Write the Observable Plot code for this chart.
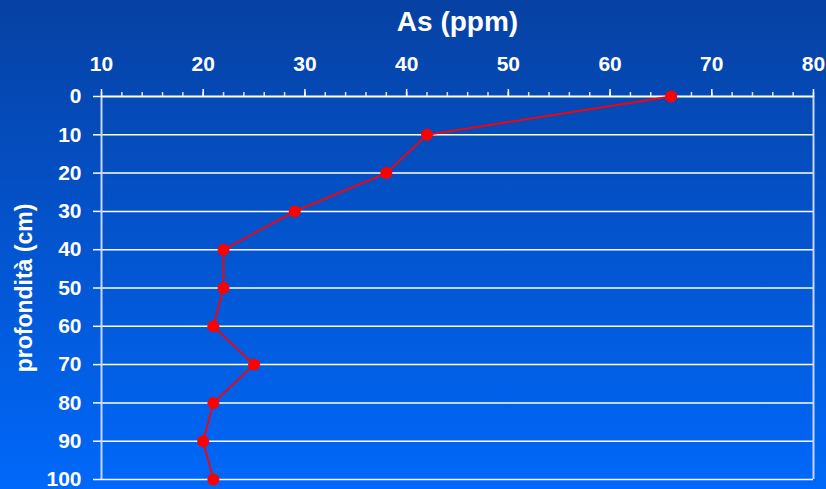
<!DOCTYPE html>
<html>
<head>
<meta charset="utf-8">
<script src="https://cdn.jsdelivr.net/npm/d3@7"></script>
<script src="https://cdn.jsdelivr.net/npm/@observablehq/plot@0.6"></script>
<style>
  html, body { margin: 0; padding: 0; }
  body { width: 826px; height: 489px; overflow: hidden; background: linear-gradient(to bottom, #0641a3, #0068fa); }
</style>
</head>
<body>
<div id="chart"></div>
<script>
const depth = [0, 10, 20, 30, 40, 50, 60, 70, 80, 90, 100];
const arsenic = [66, 42, 38, 29, 22, 22, 21, 25, 21, 20, 21];
const xTicks = [10, 20, 30, 40, 50, 60, 70, 80];
const xMinorTicks = d3.range(10, 81, 2);
const yTicks = [0, 10, 20, 30, 40, 50, 60, 70, 80, 90, 100];
const xTitle = "As (ppm)";
const yTitle = "profondità (cm)";

const data = depth.map((d, i) => ({depth: d, as: arsenic[i]}));

const chart = Plot.plot({
  width: 826,
  height: 489,
  marginTop: 96,
  marginLeft: 101,
  marginRight: 13,
  marginBottom: 10,
  style: {background: "transparent", fontFamily: "'Liberation Sans', Arial, sans-serif", color: "white", overflow: "visible"},
  x: {domain: [10, 80]},
  y: {domain: [0, 100], reverse: true},
  marks: [
    Plot.gridY(yTicks.filter(d => d > 0), {stroke: "white", strokeOpacity: 1, strokeWidth: 1.5}),
    Plot.axisY(yTicks, {tickSize: 8, tickPadding: 12, fontSize: 21, fontWeight: "bold", label: null, stroke: "white", strokeWidth: 1.5, fill: "white"}),
    Plot.axisX(xMinorTicks, {anchor: "top", tickSize: 5, text: null, label: null, stroke: "#d8e2f5", strokeWidth: 1.5}),
    Plot.axisX(xTicks, {anchor: "top", tickSize: 8, tickPadding: 18, fontSize: 21, fontWeight: "bold", label: null, stroke: "white", strokeWidth: 1.5, fill: "white"}),
    Plot.ruleX([10, 80], {stroke: "#c8d6f0", strokeWidth: 2}),
    Plot.ruleY([0], {stroke: "white", strokeWidth: 2}),
    Plot.line(data, {x: "as", y: "depth", stroke: "#ff0000", strokeWidth: 1.8}),
    Plot.dot(data, {x: "as", y: "depth", fill: "#ff0000", r: 6}),
    Plot.text([xTitle], {frameAnchor: "top", dy: -66, lineAnchor: "bottom", fontSize: 28, fontWeight: "bold", fill: "white"}),
    Plot.text([yTitle], {frameAnchor: "left", textAnchor: "middle", dx: -70, rotate: -90, lineAnchor: "bottom", fontSize: 23, fontWeight: "bold", fill: "white"})
  ]
});
document.getElementById("chart").appendChild(chart);
</script>
</body>
</html>
